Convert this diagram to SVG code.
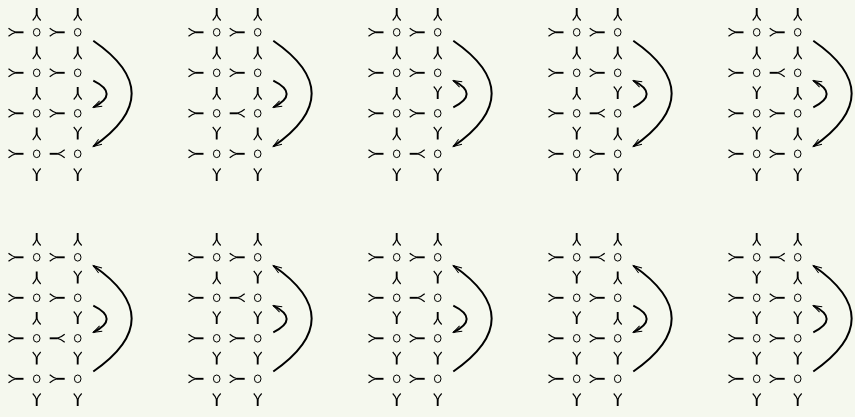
<svg xmlns="http://www.w3.org/2000/svg" xmlns:xlink="http://www.w3.org/1999/xlink" width="855" height="417" viewBox="0 0 855 417">
<style>
.leg{fill:none;stroke:#000;stroke-width:1.15}
.stem{fill:none;stroke:#000;stroke-width:1.9}
.node{fill:none;stroke:#000;stroke-width:1}
.arc{fill:none;stroke:#000;stroke-width:2}
.tip{fill:none;stroke:#000;stroke-width:1}
</style>
<defs>
<g id="g">
<path class="leg" d="M-7.5,-4 Q-4,-1 0,0 M-7.5,4 Q-4,1 0,0"/>
<path class="stem" d="M-0.5,0 H7.5"/>
</g>
<g id="gv">
<path class="leg" d="M-6.5,-4 Q-3.5,-1 0,0 M-6.5,4 Q-3.5,1 0,0"/>
<path class="stem" d="M-0.5,0 H6"/>
</g>
<ellipse id="o" class="node" cx="0" cy="0" rx="3.3" ry="3.8"/>
<path id="t" class="tip" d="M8.5,-3 L0,0 L8.5,3"/>
<path id="big" class="arc" d="M93.3,40.7 Q170,93.5 93.3,146.5"/>
<path id="small" class="arc" d="M93.3,80.7 Q120,94 93.3,107.3"/>
</defs>
<rect width="855" height="417" fill="#f5f8ee"/>

<!-- Panel 1 -->
<g id="panel-1" transform="translate(0,0)">
<g id="p1-nodes">
<g id="p1-n11"><use href="#o" x="36.7" y="32.3"/></g><g id="p1-n12"><use href="#o" x="77.7" y="32.3"/></g>
<g id="p1-n21"><use href="#o" x="36.7" y="72.8"/></g><g id="p1-n22"><use href="#o" x="77.7" y="72.8"/></g>
<g id="p1-n31"><use href="#o" x="36.7" y="113.3"/></g><g id="p1-n32"><use href="#o" x="77.7" y="113.3"/></g>
<g id="p1-n41"><use href="#o" x="36.7" y="153.8"/></g><g id="p1-n42"><use href="#o" x="77.7" y="153.8"/></g>
</g>
<g id="p1-connectors">
<use href="#g" transform="translate(16,32.3)"/><use href="#g" transform="translate(16,72.8)"/><use href="#g" transform="translate(16,113.3)"/><use href="#g" transform="translate(16,153.8)"/>
<use href="#g" transform="translate(57.2,32.3)"/><use href="#g" transform="translate(57.2,72.8)"/><use href="#g" transform="translate(57.2,113.3)"/><use href="#g" transform="translate(57.2,153.8) rotate(180)"/>
<use href="#gv" transform="translate(36.7,14) rotate(-90)"/><use href="#gv" transform="translate(36.7,52.5) rotate(-90)"/><use href="#gv" transform="translate(36.7,93) rotate(-90)"/><use href="#gv" transform="translate(36.7,133.5) rotate(-90)"/><use href="#gv" transform="translate(36.7,175) rotate(90)"/>
<use href="#gv" transform="translate(77.7,14) rotate(-90)"/><use href="#gv" transform="translate(77.7,52.5) rotate(-90)"/><use href="#gv" transform="translate(77.7,93) rotate(-90)"/><use href="#gv" transform="translate(77.7,133.5) rotate(90)"/><use href="#gv" transform="translate(77.7,175) rotate(90)"/>
<use href="#big"/><use href="#t" transform="translate(93.3,146.5) rotate(-34.6)"/>
<use href="#small"/><use href="#t" transform="translate(93.3,107.3) rotate(-26.5)"/>
</g>
</g>

<!-- Panel 2 -->
<g id="panel-2" transform="translate(180,0)">
<g id="p2-nodes">
<g id="p2-n11"><use href="#o" x="36.7" y="32.3"/></g><g id="p2-n12"><use href="#o" x="77.7" y="32.3"/></g>
<g id="p2-n21"><use href="#o" x="36.7" y="72.8"/></g><g id="p2-n22"><use href="#o" x="77.7" y="72.8"/></g>
<g id="p2-n31"><use href="#o" x="36.7" y="113.3"/></g><g id="p2-n32"><use href="#o" x="77.7" y="113.3"/></g>
<g id="p2-n41"><use href="#o" x="36.7" y="153.8"/></g><g id="p2-n42"><use href="#o" x="77.7" y="153.8"/></g>
</g>
<g id="p2-connectors">
<use href="#g" transform="translate(16,32.3)"/><use href="#g" transform="translate(16,72.8)"/><use href="#g" transform="translate(16,113.3)"/><use href="#g" transform="translate(16,153.8)"/>
<use href="#g" transform="translate(57.2,32.3)"/><use href="#g" transform="translate(57.2,72.8)"/><use href="#g" transform="translate(57.2,113.3) rotate(180)"/><use href="#g" transform="translate(57.2,153.8)"/>
<use href="#gv" transform="translate(36.7,14) rotate(-90)"/><use href="#gv" transform="translate(36.7,52.5) rotate(-90)"/><use href="#gv" transform="translate(36.7,93) rotate(-90)"/><use href="#gv" transform="translate(36.7,133.5) rotate(90)"/><use href="#gv" transform="translate(36.7,175) rotate(90)"/>
<use href="#gv" transform="translate(77.7,14) rotate(-90)"/><use href="#gv" transform="translate(77.7,52.5) rotate(-90)"/><use href="#gv" transform="translate(77.7,93) rotate(-90)"/><use href="#gv" transform="translate(77.7,133.5) rotate(-90)"/><use href="#gv" transform="translate(77.7,175) rotate(90)"/>
<use href="#big"/><use href="#t" transform="translate(93.3,146.5) rotate(-34.6)"/>
<use href="#small"/><use href="#t" transform="translate(93.3,107.3) rotate(-26.5)"/>
</g>
</g>

<!-- Panel 3 -->
<g id="panel-3" transform="translate(360,0)">
<g id="p3-nodes">
<g id="p3-n11"><use href="#o" x="36.7" y="32.3"/></g><g id="p3-n12"><use href="#o" x="77.7" y="32.3"/></g>
<g id="p3-n21"><use href="#o" x="36.7" y="72.8"/></g><g id="p3-n22"><use href="#o" x="77.7" y="72.8"/></g>
<g id="p3-n31"><use href="#o" x="36.7" y="113.3"/></g><g id="p3-n32"><use href="#o" x="77.7" y="113.3"/></g>
<g id="p3-n41"><use href="#o" x="36.7" y="153.8"/></g><g id="p3-n42"><use href="#o" x="77.7" y="153.8"/></g>
</g>
<g id="p3-connectors">
<use href="#g" transform="translate(16,32.3)"/><use href="#g" transform="translate(16,72.8)"/><use href="#g" transform="translate(16,113.3)"/><use href="#g" transform="translate(16,153.8)"/>
<use href="#g" transform="translate(57.2,32.3)"/><use href="#g" transform="translate(57.2,72.8)"/><use href="#g" transform="translate(57.2,113.3)"/><use href="#g" transform="translate(57.2,153.8) rotate(180)"/>
<use href="#gv" transform="translate(36.7,14) rotate(-90)"/><use href="#gv" transform="translate(36.7,52.5) rotate(-90)"/><use href="#gv" transform="translate(36.7,93) rotate(-90)"/><use href="#gv" transform="translate(36.7,133.5) rotate(-90)"/><use href="#gv" transform="translate(36.7,175) rotate(90)"/>
<use href="#gv" transform="translate(77.7,14) rotate(-90)"/><use href="#gv" transform="translate(77.7,52.5) rotate(-90)"/><use href="#gv" transform="translate(77.7,93) rotate(90)"/><use href="#gv" transform="translate(77.7,133.5) rotate(90)"/><use href="#gv" transform="translate(77.7,175) rotate(90)"/>
<use href="#big"/><use href="#t" transform="translate(93.3,146.5) rotate(-34.6)"/>
<use href="#small"/><use href="#t" transform="translate(93.3,80.7) rotate(26.5)"/>
</g>
</g>

<!-- Panel 4 -->
<g id="panel-4" transform="translate(540,0)">
<g id="p4-nodes">
<g id="p4-n11"><use href="#o" x="36.7" y="32.3"/></g><g id="p4-n12"><use href="#o" x="77.7" y="32.3"/></g>
<g id="p4-n21"><use href="#o" x="36.7" y="72.8"/></g><g id="p4-n22"><use href="#o" x="77.7" y="72.8"/></g>
<g id="p4-n31"><use href="#o" x="36.7" y="113.3"/></g><g id="p4-n32"><use href="#o" x="77.7" y="113.3"/></g>
<g id="p4-n41"><use href="#o" x="36.7" y="153.8"/></g><g id="p4-n42"><use href="#o" x="77.7" y="153.8"/></g>
</g>
<g id="p4-connectors">
<use href="#g" transform="translate(16,32.3)"/><use href="#g" transform="translate(16,72.8)"/><use href="#g" transform="translate(16,113.3)"/><use href="#g" transform="translate(16,153.8)"/>
<use href="#g" transform="translate(57.2,32.3)"/><use href="#g" transform="translate(57.2,72.8)"/><use href="#g" transform="translate(57.2,113.3) rotate(180)"/><use href="#g" transform="translate(57.2,153.8)"/>
<use href="#gv" transform="translate(36.7,14) rotate(-90)"/><use href="#gv" transform="translate(36.7,52.5) rotate(-90)"/><use href="#gv" transform="translate(36.7,93) rotate(-90)"/><use href="#gv" transform="translate(36.7,133.5) rotate(90)"/><use href="#gv" transform="translate(36.7,175) rotate(90)"/>
<use href="#gv" transform="translate(77.7,14) rotate(-90)"/><use href="#gv" transform="translate(77.7,52.5) rotate(-90)"/><use href="#gv" transform="translate(77.7,93) rotate(90)"/><use href="#gv" transform="translate(77.7,133.5) rotate(-90)"/><use href="#gv" transform="translate(77.7,175) rotate(90)"/>
<use href="#big"/><use href="#t" transform="translate(93.3,146.5) rotate(-34.6)"/>
<use href="#small"/><use href="#t" transform="translate(93.3,80.7) rotate(26.5)"/>
</g>
</g>

<!-- Panel 5 -->
<g id="panel-5" transform="translate(720,0)">
<g id="p5-nodes">
<g id="p5-n11"><use href="#o" x="36.7" y="32.3"/></g><g id="p5-n12"><use href="#o" x="77.7" y="32.3"/></g>
<g id="p5-n21"><use href="#o" x="36.7" y="72.8"/></g><g id="p5-n22"><use href="#o" x="77.7" y="72.8"/></g>
<g id="p5-n31"><use href="#o" x="36.7" y="113.3"/></g><g id="p5-n32"><use href="#o" x="77.7" y="113.3"/></g>
<g id="p5-n41"><use href="#o" x="36.7" y="153.8"/></g><g id="p5-n42"><use href="#o" x="77.7" y="153.8"/></g>
</g>
<g id="p5-connectors">
<use href="#g" transform="translate(16,32.3)"/><use href="#g" transform="translate(16,72.8)"/><use href="#g" transform="translate(16,113.3)"/><use href="#g" transform="translate(16,153.8)"/>
<use href="#g" transform="translate(57.2,32.3)"/><use href="#g" transform="translate(57.2,72.8) rotate(180)"/><use href="#g" transform="translate(57.2,113.3)"/><use href="#g" transform="translate(57.2,153.8)"/>
<use href="#gv" transform="translate(36.7,14) rotate(-90)"/><use href="#gv" transform="translate(36.7,52.5) rotate(-90)"/><use href="#gv" transform="translate(36.7,93) rotate(90)"/><use href="#gv" transform="translate(36.7,133.5) rotate(90)"/><use href="#gv" transform="translate(36.7,175) rotate(90)"/>
<use href="#gv" transform="translate(77.7,14) rotate(-90)"/><use href="#gv" transform="translate(77.7,52.5) rotate(-90)"/><use href="#gv" transform="translate(77.7,93) rotate(-90)"/><use href="#gv" transform="translate(77.7,133.5) rotate(-90)"/><use href="#gv" transform="translate(77.7,175) rotate(90)"/>
<use href="#big"/><use href="#t" transform="translate(93.3,146.5) rotate(-34.6)"/>
<use href="#small"/><use href="#t" transform="translate(93.3,80.7) rotate(26.5)"/>
</g>
</g>

<!-- Panel 6 -->
<g id="panel-6" transform="translate(0,225)">
<g id="p6-nodes">
<g id="p6-n11"><use href="#o" x="36.7" y="32.3"/></g><g id="p6-n12"><use href="#o" x="77.7" y="32.3"/></g>
<g id="p6-n21"><use href="#o" x="36.7" y="72.8"/></g><g id="p6-n22"><use href="#o" x="77.7" y="72.8"/></g>
<g id="p6-n31"><use href="#o" x="36.7" y="113.3"/></g><g id="p6-n32"><use href="#o" x="77.7" y="113.3"/></g>
<g id="p6-n41"><use href="#o" x="36.7" y="153.8"/></g><g id="p6-n42"><use href="#o" x="77.7" y="153.8"/></g>
</g>
<g id="p6-connectors">
<use href="#g" transform="translate(16,32.3)"/><use href="#g" transform="translate(16,72.8)"/><use href="#g" transform="translate(16,113.3)"/><use href="#g" transform="translate(16,153.8)"/>
<use href="#g" transform="translate(57.2,32.3)"/><use href="#g" transform="translate(57.2,72.8)"/><use href="#g" transform="translate(57.2,113.3) rotate(180)"/><use href="#g" transform="translate(57.2,153.8)"/>
<use href="#gv" transform="translate(36.7,14) rotate(-90)"/><use href="#gv" transform="translate(36.7,52.5) rotate(-90)"/><use href="#gv" transform="translate(36.7,93) rotate(-90)"/><use href="#gv" transform="translate(36.7,133.5) rotate(90)"/><use href="#gv" transform="translate(36.7,175) rotate(90)"/>
<use href="#gv" transform="translate(77.7,14) rotate(-90)"/><use href="#gv" transform="translate(77.7,52.5) rotate(90)"/><use href="#gv" transform="translate(77.7,93) rotate(90)"/><use href="#gv" transform="translate(77.7,133.5) rotate(90)"/><use href="#gv" transform="translate(77.7,175) rotate(90)"/>
<use href="#big"/><use href="#t" transform="translate(93.3,40.7) rotate(34.5)"/>
<use href="#small"/><use href="#t" transform="translate(93.3,107.3) rotate(-26.5)"/>
</g>
</g>

<!-- Panel 7 -->
<g id="panel-7" transform="translate(180,225)">
<g id="p7-nodes">
<g id="p7-n11"><use href="#o" x="36.7" y="32.3"/></g><g id="p7-n12"><use href="#o" x="77.7" y="32.3"/></g>
<g id="p7-n21"><use href="#o" x="36.7" y="72.8"/></g><g id="p7-n22"><use href="#o" x="77.7" y="72.8"/></g>
<g id="p7-n31"><use href="#o" x="36.7" y="113.3"/></g><g id="p7-n32"><use href="#o" x="77.7" y="113.3"/></g>
<g id="p7-n41"><use href="#o" x="36.7" y="153.8"/></g><g id="p7-n42"><use href="#o" x="77.7" y="153.8"/></g>
</g>
<g id="p7-connectors">
<use href="#g" transform="translate(16,32.3)"/><use href="#g" transform="translate(16,72.8)"/><use href="#g" transform="translate(16,113.3)"/><use href="#g" transform="translate(16,153.8)"/>
<use href="#g" transform="translate(57.2,32.3)"/><use href="#g" transform="translate(57.2,72.8) rotate(180)"/><use href="#g" transform="translate(57.2,113.3)"/><use href="#g" transform="translate(57.2,153.8)"/>
<use href="#gv" transform="translate(36.7,14) rotate(-90)"/><use href="#gv" transform="translate(36.7,52.5) rotate(-90)"/><use href="#gv" transform="translate(36.7,93) rotate(90)"/><use href="#gv" transform="translate(36.7,133.5) rotate(90)"/><use href="#gv" transform="translate(36.7,175) rotate(90)"/>
<use href="#gv" transform="translate(77.7,14) rotate(-90)"/><use href="#gv" transform="translate(77.7,52.5) rotate(90)"/><use href="#gv" transform="translate(77.7,93) rotate(90)"/><use href="#gv" transform="translate(77.7,133.5) rotate(90)"/><use href="#gv" transform="translate(77.7,175) rotate(90)"/>
<use href="#big"/><use href="#t" transform="translate(93.3,40.7) rotate(34.5)"/>
<use href="#small"/><use href="#t" transform="translate(93.3,80.7) rotate(26.5)"/>
</g>
</g>

<!-- Panel 8 -->
<g id="panel-8" transform="translate(360,225)">
<g id="p8-nodes">
<g id="p8-n11"><use href="#o" x="36.7" y="32.3"/></g><g id="p8-n12"><use href="#o" x="77.7" y="32.3"/></g>
<g id="p8-n21"><use href="#o" x="36.7" y="72.8"/></g><g id="p8-n22"><use href="#o" x="77.7" y="72.8"/></g>
<g id="p8-n31"><use href="#o" x="36.7" y="113.3"/></g><g id="p8-n32"><use href="#o" x="77.7" y="113.3"/></g>
<g id="p8-n41"><use href="#o" x="36.7" y="153.8"/></g><g id="p8-n42"><use href="#o" x="77.7" y="153.8"/></g>
</g>
<g id="p8-connectors">
<use href="#g" transform="translate(16,32.3)"/><use href="#g" transform="translate(16,72.8)"/><use href="#g" transform="translate(16,113.3)"/><use href="#g" transform="translate(16,153.8)"/>
<use href="#g" transform="translate(57.2,32.3)"/><use href="#g" transform="translate(57.2,72.8) rotate(180)"/><use href="#g" transform="translate(57.2,113.3)"/><use href="#g" transform="translate(57.2,153.8)"/>
<use href="#gv" transform="translate(36.7,14) rotate(-90)"/><use href="#gv" transform="translate(36.7,52.5) rotate(-90)"/><use href="#gv" transform="translate(36.7,93) rotate(90)"/><use href="#gv" transform="translate(36.7,133.5) rotate(90)"/><use href="#gv" transform="translate(36.7,175) rotate(90)"/>
<use href="#gv" transform="translate(77.7,14) rotate(-90)"/><use href="#gv" transform="translate(77.7,52.5) rotate(90)"/><use href="#gv" transform="translate(77.7,93) rotate(-90)"/><use href="#gv" transform="translate(77.7,133.5) rotate(90)"/><use href="#gv" transform="translate(77.7,175) rotate(90)"/>
<use href="#big"/><use href="#t" transform="translate(93.3,40.7) rotate(34.5)"/>
<use href="#small"/><use href="#t" transform="translate(93.3,107.3) rotate(-26.5)"/>
</g>
</g>

<!-- Panel 9 -->
<g id="panel-9" transform="translate(540,225)">
<g id="p9-nodes">
<g id="p9-n11"><use href="#o" x="36.7" y="32.3"/></g><g id="p9-n12"><use href="#o" x="77.7" y="32.3"/></g>
<g id="p9-n21"><use href="#o" x="36.7" y="72.8"/></g><g id="p9-n22"><use href="#o" x="77.7" y="72.8"/></g>
<g id="p9-n31"><use href="#o" x="36.7" y="113.3"/></g><g id="p9-n32"><use href="#o" x="77.7" y="113.3"/></g>
<g id="p9-n41"><use href="#o" x="36.7" y="153.8"/></g><g id="p9-n42"><use href="#o" x="77.7" y="153.8"/></g>
</g>
<g id="p9-connectors">
<use href="#g" transform="translate(16,32.3)"/><use href="#g" transform="translate(16,72.8)"/><use href="#g" transform="translate(16,113.3)"/><use href="#g" transform="translate(16,153.8)"/>
<use href="#g" transform="translate(57.2,32.3) rotate(180)"/><use href="#g" transform="translate(57.2,72.8)"/><use href="#g" transform="translate(57.2,113.3)"/><use href="#g" transform="translate(57.2,153.8)"/>
<use href="#gv" transform="translate(36.7,14) rotate(-90)"/><use href="#gv" transform="translate(36.7,52.5) rotate(90)"/><use href="#gv" transform="translate(36.7,93) rotate(90)"/><use href="#gv" transform="translate(36.7,133.5) rotate(90)"/><use href="#gv" transform="translate(36.7,175) rotate(90)"/>
<use href="#gv" transform="translate(77.7,14) rotate(-90)"/><use href="#gv" transform="translate(77.7,52.5) rotate(-90)"/><use href="#gv" transform="translate(77.7,93) rotate(-90)"/><use href="#gv" transform="translate(77.7,133.5) rotate(90)"/><use href="#gv" transform="translate(77.7,175) rotate(90)"/>
<use href="#big"/><use href="#t" transform="translate(93.3,40.7) rotate(34.5)"/>
<use href="#small"/><use href="#t" transform="translate(93.3,107.3) rotate(-26.5)"/>
</g>
</g>

<!-- Panel 10 -->
<g id="panel-10" transform="translate(720,225)">
<g id="p10-nodes">
<g id="p10-n11"><use href="#o" x="36.7" y="32.3"/></g><g id="p10-n12"><use href="#o" x="77.7" y="32.3"/></g>
<g id="p10-n21"><use href="#o" x="36.7" y="72.8"/></g><g id="p10-n22"><use href="#o" x="77.7" y="72.8"/></g>
<g id="p10-n31"><use href="#o" x="36.7" y="113.3"/></g><g id="p10-n32"><use href="#o" x="77.7" y="113.3"/></g>
<g id="p10-n41"><use href="#o" x="36.7" y="153.8"/></g><g id="p10-n42"><use href="#o" x="77.7" y="153.8"/></g>
</g>
<g id="p10-connectors">
<use href="#g" transform="translate(16,32.3)"/><use href="#g" transform="translate(16,72.8)"/><use href="#g" transform="translate(16,113.3)"/><use href="#g" transform="translate(16,153.8)"/>
<use href="#g" transform="translate(57.2,32.3) rotate(180)"/><use href="#g" transform="translate(57.2,72.8)"/><use href="#g" transform="translate(57.2,113.3)"/><use href="#g" transform="translate(57.2,153.8)"/>
<use href="#gv" transform="translate(36.7,14) rotate(-90)"/><use href="#gv" transform="translate(36.7,52.5) rotate(90)"/><use href="#gv" transform="translate(36.7,93) rotate(90)"/><use href="#gv" transform="translate(36.7,133.5) rotate(90)"/><use href="#gv" transform="translate(36.7,175) rotate(90)"/>
<use href="#gv" transform="translate(77.7,14) rotate(-90)"/><use href="#gv" transform="translate(77.7,52.5) rotate(-90)"/><use href="#gv" transform="translate(77.7,93) rotate(90)"/><use href="#gv" transform="translate(77.7,133.5) rotate(90)"/><use href="#gv" transform="translate(77.7,175) rotate(90)"/>
<use href="#big"/><use href="#t" transform="translate(93.3,40.7) rotate(34.5)"/>
<use href="#small"/><use href="#t" transform="translate(93.3,80.7) rotate(26.5)"/>
</g>
</g>
</svg>
